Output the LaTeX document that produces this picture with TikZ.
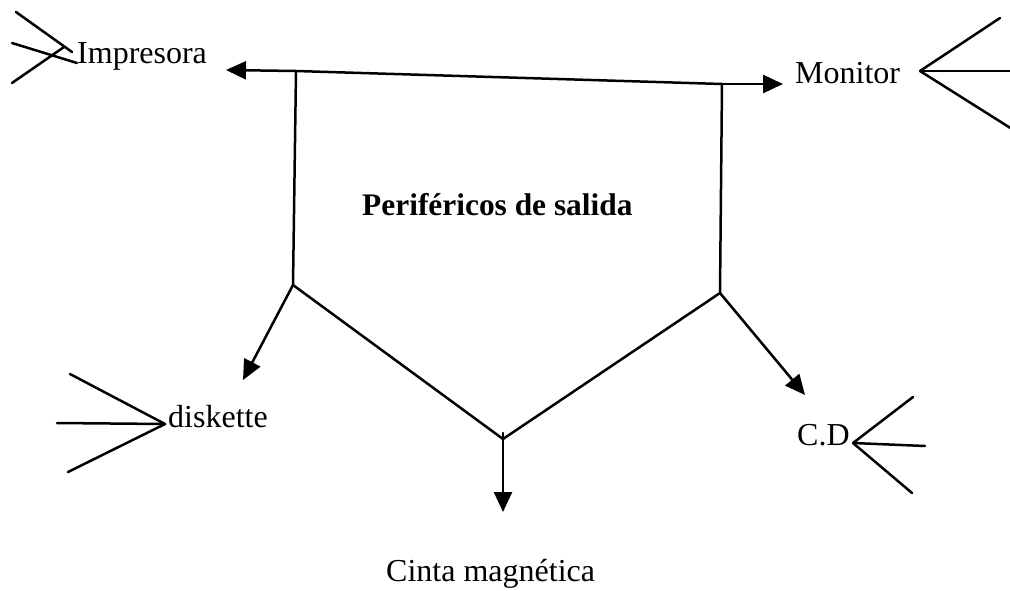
\documentclass[tikz,border=0pt]{standalone}
\usepackage{fontspec}
\setmainfont{Liberation Serif}
\usetikzlibrary{arrows.meta}
\begin{document}
\begin{tikzpicture}[x=1pt,y=-1pt,
  ln/.style={line width=2.5pt,line cap=round,line join=round},
  arr/.style={ln,-{Triangle[length=20pt,width=18pt]}},
  lbl/.style={anchor=base west,inner sep=0pt,font=\fontsize{32}{36}\selectfont},
  ttl/.style={anchor=base west,inner sep=0pt,font=\fontsize{31.4}{35}\selectfont\bfseries}]
\useasboundingbox (0,0) rectangle (1010,590);
% labels
\node[lbl] (imp) at (77,63) {Impresora};
\node[lbl] (mon) at (795,83) {Monitor};
\node[lbl] (dis) at (168,427) {diskette};
\node[lbl] (cd) at (797,445) {C.D};
\node[lbl] (cin) at (386,581) {Cinta magnética};
\node[ttl] (per) at (362,215) {Periféricos de salida};
% pentagon corners
\coordinate (tl) at (296,71);
\coordinate (tr) at (722,84);
\coordinate (bl) at (293,285);
\coordinate (br) at (720,293);
\coordinate (bv) at (503,439);
\coordinate (bvt) at (503,433);
% arrow tips
\coordinate (timp) at (226,70);
\coordinate (tmon) at (783,84);
\coordinate (tdis) at (243,380);
\coordinate (tcd) at (805,395);
\coordinate (tcin) at (503,512);
% outline
\draw[ln] (tl) -- (bl) -- (bv) -- (br) -- (tr);
\draw[ln] (tl) -- (tr);
\draw[arr] (tl) -- (timp);
\draw[arr] (tr) -- (tmon);
\draw[arr] (bl) -- (tdis);
\draw[arr] (br) -- (tcd);
\draw[arr] (bvt) -- (tcin);
% crow's feet
\coordinate (fimp) at (64,47);
\draw[ln] (16,12) -- (72,52);
\draw[ln] (fimp) -- (12,83);
\draw[ln] (12,43) -- (imp.base west);
\coordinate (fmon) at (920,71);
\draw[ln] (fmon) -- (1000,18);
\draw[ln] (fmon) -- (1012,71);
\draw[ln] (fmon) -- (1012,129);
\coordinate (fdis) at (165,424);
\draw[ln] (fdis) -- (70,374);
\draw[ln] (fdis) -- (57,423);
\draw[ln] (fdis) -- (68,472);
\coordinate (fcd) at (853,443);
\draw[ln] (fcd) -- (913,397);
\draw[ln] (fcd) -- (925,446);
\draw[ln] (fcd) -- (912,493);
\end{tikzpicture}
\end{document}
